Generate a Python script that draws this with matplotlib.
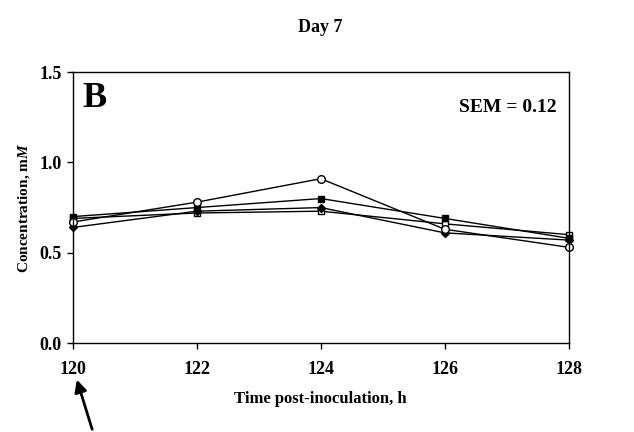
import matplotlib.pyplot as plt

plt.rcParams['font.family'] = ['Liberation Serif', 'DejaVu Serif']
plt.rcParams['font.weight'] = 'bold'
plt.rcParams['mathtext.fontset'] = 'custom'
plt.rcParams['mathtext.it'] = 'Liberation Serif:italic:bold'

# Time post-inoculation (h)
hours = [120, 122, 124, 126, 128]

# Concentration (mM) per treatment
filled_square = [0.70, 0.75, 0.80, 0.69, 0.58]
open_square = [0.69, 0.72, 0.73, 0.66, 0.60]
open_circle = [0.67, 0.78, 0.91, 0.63, 0.53]
filled_diamond = [0.64, 0.73, 0.75, 0.61, 0.57]

fig = plt.figure(figsize=(6.34, 4.32), dpi=100)
ax = fig.add_axes([0.115, 0.206, 0.782, 0.627])

ax.plot(hours, open_square, color='black', lw=1, marker='s', ms=5,
        mfc='white', mec='black', clip_on=False)
ax.plot(hours, filled_diamond, color='black', lw=1, marker='D', ms=4.5,
        mfc='black', mec='black', clip_on=False)
ax.plot(hours, filled_square, color='black', lw=1, marker='s', ms=5,
        mfc='black', mec='black', clip_on=False)
ax.plot(hours, open_circle, color='black', lw=1, marker='o', ms=5.5,
        mfc='white', mec='black', clip_on=False)

ax.set_xlim(120, 128)
ax.set_ylim(0, 1.5)
ax.set_xticks(hours)
ax.set_yticks([0.0, 0.5, 1.0, 1.5])
ax.set_yticklabels(['0.0', '0.5', '1.0', '1.5'])
ax.tick_params(direction='out', length=4, width=1, labelsize=13)
ax.tick_params(axis='x', pad=9)
ax.tick_params(axis='y', pad=4)
for s in ax.spines.values():
    s.set_linewidth(1)

ax.set_xlabel('Time post-inoculation, h', fontsize=12, fontweight='bold', labelpad=9)
ax.set_ylabel('Concentration, m$\\mathit{M}$', fontsize=11, fontweight='bold', labelpad=5)

ax.text(0.02, 0.965, 'B', transform=ax.transAxes, fontsize=26,
        fontweight='bold', va='top', ha='left')
ax.text(0.975, 0.87, 'SEM = 0.12', transform=ax.transAxes, fontsize=14,
        fontweight='bold', va='center', ha='right')

fig.text(0.505, 0.937, 'Day 7', fontsize=13, fontweight='bold',
         ha='center', va='center')

fig.add_artist(plt.matplotlib.patches.FancyArrowPatch(
    (93 / 634, 1 - 432 / 432), (76 / 634, 1 - 377 / 432),
    transform=fig.transFigure, arrowstyle='-|>', mutation_scale=18,
    color='black', lw=2))

fig.savefig('out.png', dpi=100)
